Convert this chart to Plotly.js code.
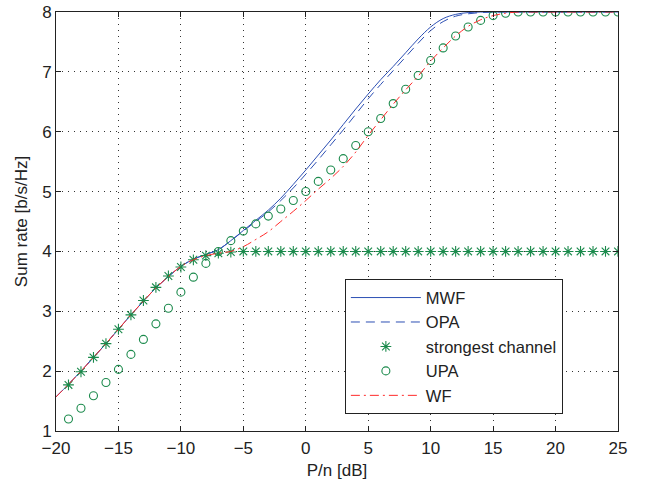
<!DOCTYPE html>
<html>
<head>
<meta charset="utf-8">
<script src="https://cdn.plot.ly/plotly-3.0.1.min.js"></script>
<style>html,body{margin:0;padding:0;background:#fff;}#chart{width:649px;height:486px;}</style>
</head>
<body>
<div id="chart"></div>
<script>
// Data
var xLine = [];
for (var i = -20; i <= 25; i++) xLine.push(i);
var xMarks = [];
for (var j = -19; j <= 25; j++) xMarks.push(j);

var mwf = [1.57,1.78,2.00,2.23,2.46,2.70,2.94,3.17,3.39,3.58,3.75,3.87,3.95,4.03,4.18,4.35,4.52,4.69,4.89,5.12,5.36,5.61,5.86,6.12,6.38,6.63,6.87,7.09,7.32,7.55,7.75,7.89,7.96,7.99,8.00,8,8,8,8,8,8,8,8,8,8,8];
var opa = [1.57,1.78,2.00,2.23,2.46,2.70,2.94,3.17,3.39,3.58,3.75,3.87,3.95,4.03,4.18,4.34,4.50,4.66,4.85,5.06,5.29,5.53,5.78,6.03,6.29,6.55,6.79,7.02,7.25,7.48,7.69,7.84,7.93,7.97,7.99,8.00,8,8,8,8,8,8,8,8,8,8];
var wf = [1.57,1.78,2.00,2.23,2.46,2.70,2.94,3.17,3.39,3.58,3.75,3.86,3.93,3.97,4.00,4.08,4.20,4.33,4.50,4.67,4.85,5.04,5.22,5.42,5.66,5.94,6.20,6.46,6.70,6.93,7.18,7.40,7.60,7.76,7.87,7.94,7.98,8,8,8,8,8,8,8,8,8];
var strongest = [1.77,1.99,2.23,2.46,2.70,2.94,3.18,3.40,3.59,3.74,3.86,3.93,3.97,3.99,4.00,4,4,4,4,4,4,4,4,4,4,4,4,4,4,4,4,4,4,4,4,4,4,4,4,4,4,4,4,4,4];
var upa = [1.20,1.38,1.59,1.81,2.03,2.28,2.53,2.79,3.05,3.32,3.57,3.80,4.00,4.18,4.34,4.46,4.59,4.71,4.85,5.00,5.17,5.36,5.55,5.77,6.00,6.22,6.47,6.71,6.94,7.19,7.40,7.60,7.75,7.86,7.94,7.98,8,8,8,8,8,8,8,8,8];

var blue = '#2c4fb4';
var green = '#1b8a4c';
var red = '#ff2a2a';

var traces = [
  {name:'MWF', x:xLine, y:mwf, mode:'lines', line:{color:blue, width:1, shape:'spline'}},
  {name:'OPA', x:xLine, y:opa, mode:'lines', line:{color:blue, width:1, dash:'9px,6px', shape:'spline'}},
  {name:'strongest channel', x:xMarks, y:strongest, mode:'markers', marker:{symbol:'asterisk-open', size:9, color:green, line:{color:green, width:1.1}}},
  {name:'UPA', x:xMarks, y:upa, mode:'markers', marker:{symbol:'circle-open', size:8, color:green, line:{color:green, width:1.1}}},
  {name:'WF', x:xLine, y:wf, mode:'lines', line:{color:red, width:1, dash:'9px,4px,2px,4px', shape:'spline'}}
];

var axisCommon = {
  showline:true, linecolor:'#222', linewidth:1, mirror:'ticks',
  ticks:'inside', ticklen:5, tickcolor:'#222',
  showgrid:true, gridcolor:'#333', griddash:'1px,5px', gridwidth:1,
  zeroline:false, tickfont:{size:17, color:'#222'}
};

var layout = {
  width:649, height:486,
  margin:{l:56, r:31, t:12, b:55},
  paper_bgcolor:'#fff', plot_bgcolor:'#fff',
  font:{family:'Liberation Sans, Arial, sans-serif', size:17, color:'#222'},
  showlegend:true,
  legend:{x:0.514, y:0.362, xanchor:'left', yanchor:'top', bgcolor:'#fff', bordercolor:'#222', borderwidth:1,
          font:{size:16.5}, itemwidth:70, tracegroupgap:0},
  xaxis:Object.assign({}, axisCommon, {range:[-20,25], dtick:5, tick0:-20, ticklabelstandoff:2, title:{text:'P/n [dB]', font:{size:17}, standoff:6}}),
  yaxis:Object.assign({}, axisCommon, {range:[1,8], dtick:1, tick0:1, title:{text:'Sum rate [b/s/Hz]', font:{size:17}, standoff:10}})
};

Plotly.newPlot('chart', traces, layout, {displayModeBar:false, staticPlot:true});
</script>
</body>
</html>
